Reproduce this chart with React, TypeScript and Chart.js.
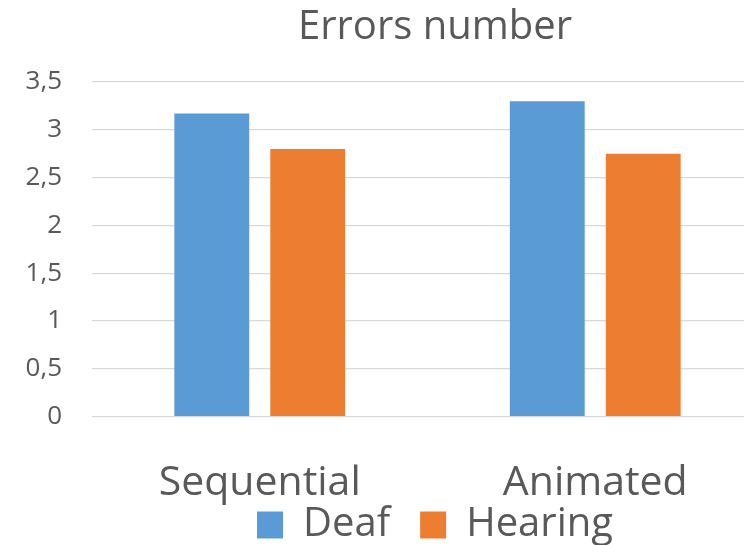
import React, { useEffect, useRef } from "react";
import { Chart, registerables } from "chart.js";

Chart.register(...registerables);

const categories = ["Sequential", "Animated"];
const deafValues = [3.17, 3.3];
const hearingValues = [2.8, 2.75];
const seriesNames = ["Deaf", "Hearing"];
const titleText = "Errors number";

const FONT = "'Open Sans', 'Noto Sans', sans-serif";
const TEXT = "#595959";
const CANVAS_W = 870;
const CANVAS_H = 555;

export default function App() {
  const ref = useRef<HTMLCanvasElement | null>(null);
  useEffect(() => {
    if (!ref.current) return;
    const chart = new Chart(ref.current, {
      type: "bar",
      data: {
        labels: categories,
        datasets: [
          { label: seriesNames[0], data: deafValues, backgroundColor: "#5B9BD5", yAxisID: "y" },
          { label: seriesNames[1], data: hearingValues, backgroundColor: "#ED7D31", yAxisID: "y" },
        ],
      },
      options: {
        animation: false,
        responsive: false,
        maintainAspectRatio: false,
        devicePixelRatio: 1,
        layout: { padding: 0 },
        datasets: { bar: { categoryPercentage: 0.572, barPercentage: 0.78 } },
        plugins: {
          tooltip: { enabled: false },
          title: {
            display: true,
            text: titleText,
            color: TEXT,
            font: { family: FONT, size: 40, weight: "normal" },
            padding: { top: 4, bottom: 30 },
          },
          legend: {
            position: "bottom",
            labels: {
              color: TEXT,
              font: { family: FONT, size: 40 },
              boxWidth: 26,
              boxHeight: 27,
              padding: 30,
            },
          },
        },
        scales: {
          x: {
            grid: { display: false },
            border: { display: false },
            ticks: { color: TEXT, font: { family: FONT, size: 41 }, padding: 34, maxRotation: 0 },
            afterFit: (s: any) => {
              s.height = 58.3;
              s._computeLabelArea = () => undefined;
            },
          },
          y: {
            min: 0,
            max: 3.5,
            position: "left",
            grid: { color: "#d9d9d9", lineWidth: 1.3, drawTicks: false },
            border: { display: false },
            ticks: {
              stepSize: 0.5,
              color: TEXT,
              font: { family: FONT, size: 26 },
              padding: 30,
              callback: (v: any) => String(v).replace(".", ","),
            },
            afterFit: (s: any) => { s.width = 92; },
          },
          y2: {
            position: "right",
            min: 0,
            max: 1,
            grid: { display: false },
            border: { display: false },
            ticks: { display: false },
            afterFit: (s: any) => { s.width = 107; },
          },
        },
      },
    } as any);
    return () => chart.destroy();
  }, []);
  return (
    <div style={{ position: "fixed", left: 0, top: 0, width: 744, height: 545, overflow: "hidden", background: "#fff" }}>
      <canvas ref={ref} width={CANVAS_W} height={CANVAS_H} style={{ display: "block", width: CANVAS_W, height: CANVAS_H }} />
    </div>
  );
}
